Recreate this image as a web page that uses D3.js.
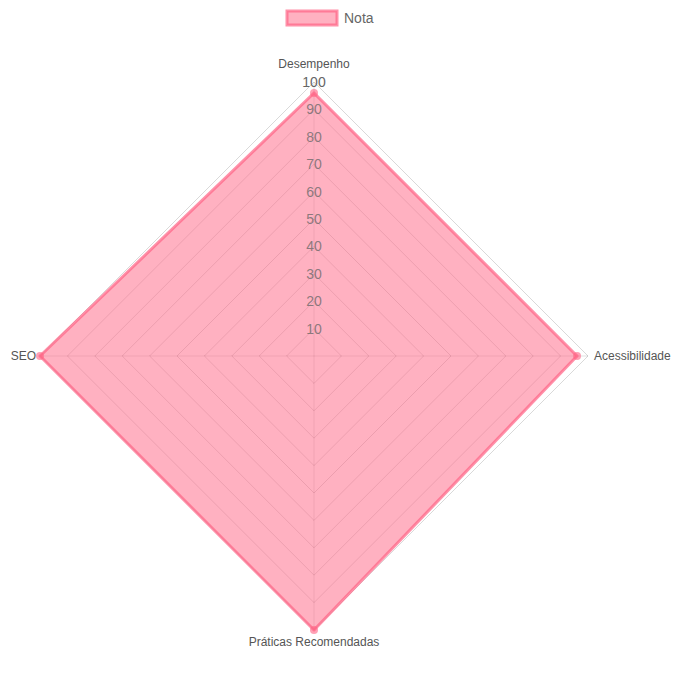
<!DOCTYPE html>
<html><head><meta charset="utf-8">
<script src="https://cdn.jsdelivr.net/npm/d3@7"></script>
<style>body{margin:0;background:#fff}text{font-family:Arial,"Liberation Sans",sans-serif}</style>
</head><body>
<script>
const labels = ["Desempenho", "Acessibilidade", "Práticas Recomendadas", "SEO"];
const values = [96, 96, 100, 100];
const ticks = [10, 20, 30, 40, 50, 60, 70, 80, 90, 100];

const width = 675, height = 675;
const cx = 314, cy = 356, R = 274;
const svg = d3.select("body").append("svg").attr("width", width).attr("height", height);

const r = d3.scaleLinear().domain([0, 100]).range([0, R]);
const angle = i => -Math.PI / 2 + i * 2 * Math.PI / labels.length;
const pt = (i, v) => [cx + r(v) * Math.cos(angle(i)), cy + r(v) * Math.sin(angle(i))];

const g = svg.append("g");
// grid
ticks.forEach(t => {
  g.append("polygon")
    .attr("points", labels.map((_, i) => pt(i, t).join(",")).join(" "))
    .attr("fill", "none").attr("stroke", "rgba(0,0,0,0.15)").attr("stroke-width", 1);
});
labels.forEach((_, i) => {
  const [x, y] = pt(i, 100);
  g.append("line").attr("x1", cx).attr("y1", cy).attr("x2", x).attr("y2", y)
    .attr("stroke", "rgba(0,0,0,0.12)");
});

// data
g.append("polygon")
  .attr("points", values.map((v, i) => pt(i, v).join(",")).join(" "))
  .attr("fill", "rgba(255,99,132,0.5)").attr("stroke", "rgba(255,99,132,0.7)")
  .attr("stroke-width", 3).attr("stroke-linejoin", "round");
values.forEach((v, i) => {
  const [x, y] = pt(i, v);
  g.append("circle").attr("cx", x).attr("cy", y).attr("r", 4)
    .attr("fill", "rgba(255,99,132,0.6)");
});

// tick labels
ticks.forEach(t => {
  g.append("text").attr("x", cx).attr("y", cy - r(t)).attr("dy", "0.35em")
    .attr("text-anchor", "middle").attr("font-size", 14).attr("fill", "#666")
    .attr("fill-opacity", t === 100 ? 1 : 0.75).text(t);
});

// point labels
const lp = [
  {x: cx, y: cy - R - 14, a: "middle"},
  {x: cx + R + 6, y: cy + 4, a: "start"},
  {x: cx, y: cy + R + 16, a: "middle"},
  {x: cx - R - 4, y: cy + 4, a: "end"}
];
labels.forEach((l, i) => {
  g.append("text").attr("x", lp[i].x).attr("y", lp[i].y).attr("text-anchor", lp[i].a)
    .attr("font-size", 12).attr("fill", "#555").text(l);
});

// legend
svg.append("rect").attr("x", 287).attr("y", 11).attr("width", 50).attr("height", 14)
  .attr("fill", "rgba(255,99,132,0.5)").attr("stroke", "rgba(255,99,132,0.7)").attr("stroke-width", 3);
svg.append("text").attr("x", 344).attr("y", 23).attr("font-size", 14).attr("fill", "#666").text("Nota");
</script>
</body></html>
